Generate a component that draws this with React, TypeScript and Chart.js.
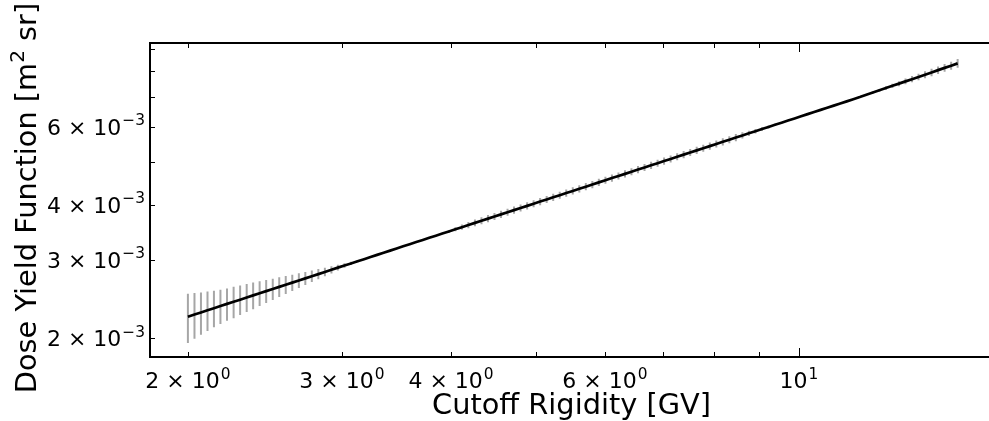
import React, { useEffect, useRef } from "react";
import { Chart, registerables } from "chart.js";

Chart.register(...registerables);

// ---------- data ----------
const UNIT = 1e-3; // dose-yield values below are in units of 1e-3 m^2 sr

const rigidityGV = [
  2.000, 2.035, 2.070, 2.106, 2.142, 2.179, 2.217, 2.256, 2.295, 2.335,
  2.375, 2.416, 2.458, 2.501, 2.544, 2.588, 2.633, 2.679, 2.725, 2.772,
  2.820, 2.869, 2.919, 2.969, 3.021, 3.073, 3.127, 3.181, 3.236, 3.292,
  3.349, 3.407, 3.466, 3.526, 3.587, 3.650, 3.713, 3.777, 3.843, 3.909,
  3.977, 4.046, 4.116, 4.187, 4.260, 4.334, 4.409, 4.485, 4.563, 4.642,
  4.722, 4.804, 4.888, 4.972, 5.058, 5.146, 5.235, 5.326, 5.418, 5.512,
  5.608, 5.705, 5.804, 5.904, 6.007, 6.111, 6.217, 6.325, 6.434, 6.546,
  6.659, 6.775, 6.892, 7.011, 7.133, 7.257, 7.382, 7.510, 7.640, 7.773,
  7.908, 8.045, 8.184, 8.326, 8.470, 8.617, 8.766, 8.918, 9.073, 9.230,
  9.390, 9.553, 9.718, 9.887, 10.058, 10.233, 10.410, 10.590, 10.774, 10.961,
  11.151, 11.344, 11.540, 11.741, 11.944, 12.151, 12.362, 12.576, 12.794, 13.016,
  13.241, 13.471, 13.704, 13.942, 14.183, 14.429, 14.679, 14.934, 15.192,
];

const doseYield = [
  2.234, 2.259, 2.284, 2.310, 2.335, 2.361, 2.388, 2.414, 2.441, 2.468,
  2.496, 2.524, 2.552, 2.580, 2.609, 2.638, 2.667, 2.697, 2.727, 2.758,
  2.788, 2.819, 2.851, 2.883, 2.915, 2.947, 2.980, 3.013, 3.047, 3.081,
  3.115, 3.150, 3.185, 3.221, 3.256, 3.293, 3.329, 3.367, 3.404, 3.442,
  3.480, 3.519, 3.558, 3.598, 3.638, 3.679, 3.720, 3.761, 3.803, 3.845,
  3.888, 3.932, 3.975, 4.020, 4.065, 4.110, 4.156, 4.202, 4.249, 4.296,
  4.344, 4.392, 4.441, 4.491, 4.541, 4.592, 4.643, 4.694, 4.747, 4.800,
  4.853, 4.907, 4.962, 5.017, 5.073, 5.130, 5.187, 5.245, 5.303, 5.362,
  5.422, 5.482, 5.544, 5.605, 5.668, 5.731, 5.795, 5.859, 5.925, 5.991,
  6.058, 6.125, 6.193, 6.262, 6.332, 6.403, 6.474, 6.546, 6.619, 6.693,
  6.768, 6.843, 6.919, 6.996, 7.081, 7.164, 7.247, 7.331, 7.417, 7.503,
  7.591, 7.679, 7.769, 7.859, 7.951, 8.048, 8.142, 8.236, 8.336,
];

const doseYieldErr = [
  0.284, 0.268, 0.251, 0.237, 0.221, 0.209, 0.200, 0.198, 0.188, 0.180,
  0.173, 0.163, 0.153, 0.143, 0.133, 0.123, 0.113, 0.103, 0.093, 0.083,
  0.073, 0.063, 0.053, 0.043, 0.034, 0.025, 0.017, 0.010, 0.005, 0.005,
  0.005, 0.005, 0.005, 0.005, 0.005, 0.005, 0.005, 0.005, 0.007, 0.012,
  0.022, 0.036, 0.048, 0.058, 0.064, 0.067, 0.068, 0.069, 0.070, 0.071,
  0.072, 0.073, 0.073, 0.074, 0.075, 0.076, 0.077, 0.078, 0.079, 0.080,
  0.081, 0.082, 0.083, 0.084, 0.084, 0.085, 0.086, 0.087, 0.088, 0.089,
  0.090, 0.091, 0.092, 0.093, 0.094, 0.095, 0.096, 0.097, 0.098, 0.099,
  0.100, 0.101, 0.102, 0.103, 0.104, 0.093, 0.081, 0.069, 0.057, 0.045,
  0.032, 0.016, 0.016, 0.016, 0.017, 0.017, 0.017, 0.017, 0.017, 0.017,
  0.018, 0.018, 0.018, 0.018, 0.018, 0.037, 0.053, 0.069, 0.083, 0.097,
  0.110, 0.123, 0.133, 0.143, 0.152, 0.158, 0.165, 0.175, 0.186,
];

// axis ranges
const X_MIN = 1.81;
const X_MAX = 16.5;
const Y_MIN = 1.812e-3;
const Y_MAX = 9.267e-3;

// ticks (log minor ticks) and their labels
const xTickValues = [2, 3, 4, 5, 6, 7, 8, 9, 10];
const xTickMantissa = ["2", "3", "4", "", "6", "", "", "", ""];
const xTickExponent = ["0", "0", "0", "", "0", "", "", "", "1"];
const xMajorTicks = [10];

const yTickValues = [2e-3, 3e-3, 4e-3, 5e-3, 6e-3, 7e-3, 8e-3, 9e-3];
const yTickMantissa = ["2", "3", "4", "", "6", "", "", ""];
const yTickExponent = ["\u22123", "\u22123", "\u22123", "", "\u22123", "", "", ""];

const X_TITLE = "Cutoff Rigidity [GV]";
const Y_TITLE_PARTS = ["Dose Yield Function [m", "2", " sr]"];

const FONT = '"DejaVu Sans", "Liberation Sans", sans-serif';

function drawSci(
  ctx: CanvasRenderingContext2D,
  mant: string,
  exp: string,
  x: number,
  baseline: number,
  align: "right" | "center"
) {
  const mainSize = 22;
  const supSize = 15.4;
  const raise = 9.5;
  const main = mant ? `${mant} \u00d7 10` : "10";
  ctx.font = `${mainSize}px ${FONT}`;
  const wMain = ctx.measureText(main).width;
  ctx.font = `${supSize}px ${FONT}`;
  const wSup = ctx.measureText(exp).width;
  const gap = 1;
  const total = wMain + gap + wSup;
  const left = align === "right" ? x - total : x - total / 2;
  ctx.textAlign = "left";
  ctx.textBaseline = "alphabetic";
  ctx.font = `${mainSize}px ${FONT}`;
  ctx.fillText(main, left, baseline);
  ctx.font = `${supSize}px ${FONT}`;
  ctx.fillText(exp, left + wMain + gap, baseline - raise);
}

const framePlugin = {
  id: "mplFrame",
  afterDraw(chart: any) {
    const { ctx, chartArea, scales } = chart;
    const { left, right, top, bottom } = chartArea;
    const xs = scales.x;
    const ys = scales.y;
    ctx.save();
    ctx.fillStyle = "#000";
    ctx.strokeStyle = "#000";

    // ticks (inward, on all visible sides)
    ctx.lineWidth = 1;
    xTickValues.forEach((v) => {
      const px = Math.round(xs.getPixelForValue(v)) + 0.5;
      const len = xMajorTicks.includes(v) ? 9 : 5;
      ctx.beginPath();
      ctx.moveTo(px, bottom);
      ctx.lineTo(px, bottom - len);
      ctx.moveTo(px, top);
      ctx.lineTo(px, top + len);
      ctx.stroke();
    });
    yTickValues.forEach((v) => {
      const py = Math.round(ys.getPixelForValue(v)) + 0.5;
      ctx.beginPath();
      ctx.moveTo(left, py);
      ctx.lineTo(left + 5, py);
      ctx.stroke();
    });

    // spines
    ctx.lineWidth = 2;
    ctx.beginPath();
    ctx.moveTo(right + 4, top);
    ctx.lineTo(left, top);
    ctx.lineTo(left, bottom);
    ctx.lineTo(right + 4, bottom);
    ctx.stroke();

    // tick labels
    xTickValues.forEach((v, i) => {
      if (!xTickExponent[i]) return;
      const px = xs.getPixelForValue(v);
      drawSci(ctx, xTickMantissa[i], xTickExponent[i], px, 388, "center");
    });
    yTickValues.forEach((v, i) => {
      if (!yTickExponent[i]) return;
      const py = ys.getPixelForValue(v);
      drawSci(ctx, yTickMantissa[i], yTickExponent[i], left - 5, py + 8, "right");
    });

    // axis titles
    const tSize = 28.8;
    ctx.font = `${tSize}px ${FONT}`;
    ctx.textAlign = "center";
    ctx.textBaseline = "alphabetic";
    ctx.fillText(X_TITLE, (left + right) / 2 + 2, 414);

    // y title with superscript
    const supT = tSize * 0.7;
    ctx.font = `${tSize}px ${FONT}`;
    const w0 = ctx.measureText(Y_TITLE_PARTS[0]).width;
    const w2 = ctx.measureText(Y_TITLE_PARTS[2]).width;
    ctx.font = `${supT}px ${FONT}`;
    const w1 = ctx.measureText(Y_TITLE_PARTS[1]).width;
    const total = w0 + w1 + w2;
    ctx.translate(36, (top + bottom) / 2 - 2);
    ctx.rotate(-Math.PI / 2);
    ctx.textAlign = "left";
    let cx = -total / 2;
    ctx.font = `${tSize}px ${FONT}`;
    ctx.fillText(Y_TITLE_PARTS[0], cx, 0);
    cx += w0;
    ctx.font = `${supT}px ${FONT}`;
    ctx.fillText(Y_TITLE_PARTS[1], cx, -12);
    cx += w1;
    ctx.font = `${tSize}px ${FONT}`;
    ctx.fillText(Y_TITLE_PARTS[2], cx, 0);
    ctx.restore();
  },
};

export default function App() {
  const canvasRef = useRef<HTMLCanvasElement | null>(null);

  useEffect(() => {
    const canvas = canvasRef.current;
    if (!canvas) return;

    const lineData = rigidityGV.map((x, i) => ({ x, y: doseYield[i] * UNIT }));
    const errData: { x: number; y: number | null }[] = [];
    rigidityGV.forEach((x, i) => {
      errData.push({ x, y: (doseYield[i] - doseYieldErr[i]) * UNIT });
      errData.push({ x, y: (doseYield[i] + doseYieldErr[i]) * UNIT });
      errData.push({ x, y: null });
    });

    const chart = new Chart(canvas, {
      type: "scatter",
      data: {
        datasets: [
          {
            data: lineData,
            showLine: true,
            borderColor: "#000000",
            borderWidth: 2.7,
            pointRadius: 0,
            order: 1,
          },
          {
            data: errData as any,
            showLine: true,
            spanGaps: false,
            borderColor: "#a6a6a6",
            borderWidth: 2,
            pointRadius: 0,
            order: 2,
          },
        ],
      },
      options: {
        animation: false,
        responsive: false,
        events: [],
        layout: { padding: { left: 150, top: 43, right: 0, bottom: 64 } },
        plugins: {
          legend: { display: false },
          tooltip: { enabled: false },
        },
        scales: {
          x: { type: "logarithmic", display: false, min: X_MIN, max: X_MAX },
          y: { type: "logarithmic", display: false, min: Y_MIN, max: Y_MAX },
        },
      },
      plugins: [framePlugin],
    });

    return () => chart.destroy();
  }, []);

  return (
    <div
      style={{
        position: "fixed",
        left: 0,
        top: 0,
        width: 989,
        height: 421,
        overflow: "hidden",
        background: "#ffffff",
      }}
    >
      <canvas ref={canvasRef} width={989} height={421} style={{ width: 989, height: 421, display: "block" }} />
    </div>
  );
}
